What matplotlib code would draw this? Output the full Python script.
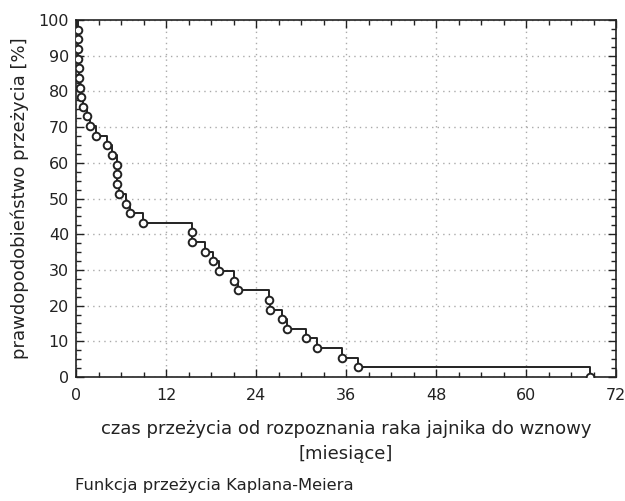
import matplotlib
matplotlib.use('Agg')
import matplotlib.pyplot as plt
from matplotlib.ticker import MultipleLocator

# czasy zdarzen [miesiace] i prawdopodobienstwo przezycia po zdarzeniu [%]
czas = [0.2, 0.2, 0.3, 0.3, 0.4, 0.4, 0.5, 0.6, 0.9, 1.4,
        1.8, 2.7, 4.1, 4.8, 5.4, 5.5, 5.5, 5.7, 6.7, 7.2,
        8.9, 15.4, 15.4, 17.2, 18.3, 19.1, 21.0, 21.6, 25.7, 25.9,
        27.4, 28.1, 30.6, 32.1, 35.5, 37.6, 68.5]
przezycie = [97.3, 94.6, 91.9, 89.2, 86.5, 83.8, 81.1, 78.4, 75.7, 73.0,
             70.3, 67.6, 64.9, 62.2, 59.5, 56.8, 54.1, 51.4, 48.6, 45.9,
             43.2, 40.5, 37.8, 35.1, 32.4, 29.7, 27.0, 24.3, 21.6, 18.9,
             16.2, 13.5, 10.8, 8.1, 5.4, 2.7, 0.0]

x_ticks = [0, 12, 24, 36, 48, 60, 72]
y_ticks = [0, 10, 20, 30, 40, 50, 60, 70, 80, 90, 100]

plt.rcParams['font.family'] = ['DejaVu Sans']

fig = plt.figure(figsize=(6.25, 5.01), dpi=100)
ax = fig.add_axes([0.1216, 0.2475, 0.864, 0.7125])

# krzywa schodkowa
xs = [0] + czas
ys = [100] + przezycie
ax.step(xs, ys, where='post', color='#222222', linewidth=1.4, zorder=3)
ax.plot(czas, przezycie, linestyle='none', marker='o', markersize=5.5,
        markerfacecolor='white', markeredgecolor='#222222', markeredgewidth=1.4, zorder=4)

ax.set_xlim(0, 72)
ax.set_ylim(0, 100)
ax.set_xticks(x_ticks)
ax.set_yticks(y_ticks)
ax.xaxis.set_minor_locator(MultipleLocator(3))
ax.yaxis.set_minor_locator(MultipleLocator(2.5))
ax.tick_params(which='both', direction='in', top=True, right=True, labelsize=11.5,
               color='#222222', labelcolor='#222222')
ax.tick_params(which='major', length=6, width=1)
ax.tick_params(which='minor', length=3.5, width=1)
ax.tick_params(axis='x', pad=8)
ax.tick_params(axis='y', pad=5)
for s in ax.spines.values():
    s.set_linewidth(1.2)
    s.set_color('#222222')

ax.grid(True, which='major', linestyle=(0, (1, 3)), color='#aaaaaa', linewidth=1)

ax.set_xlabel('czas przeżycia od rozpoznania raka jajnika do wznowy\n[miesiące]',
              fontsize=13, labelpad=12, linespacing=1.5, color='#222222')
ax.set_ylabel('prawdopodobieństwo przeżycia [%]', fontsize=13, labelpad=7, color='#222222')

fig.text(0.12, 0.022, 'Funkcja przeżycia Kaplana-Meiera', fontsize=11.8, ha='left',
         va='baseline', color='#222222')

fig.savefig('out.png', dpi=100)
